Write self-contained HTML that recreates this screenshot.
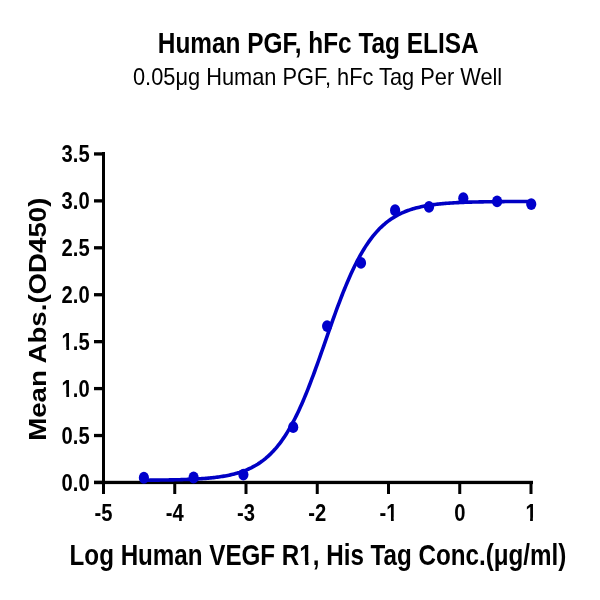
<!DOCTYPE html>
<html><head><meta charset="utf-8"><title>Human PGF, hFc Tag ELISA</title>
<style>
html,body{margin:0;padding:0;background:#fff;width:600px;height:600px;overflow:hidden}
svg{display:block;will-change:transform}
text{font-family:"Liberation Sans",sans-serif;fill:#000}
</style></head><body>
<svg width="600" height="600" viewBox="0 0 600 600">
<rect width="600" height="600" fill="#fff"/>
<g fill="#000"><rect x="102" y="152" width="3" height="332.10"/><rect x="94" y="480.8" width="439" height="3.30"/><rect x="94" y="480.80" width="8.5" height="3.30"/><rect x="94" y="433.87" width="8.5" height="3.30"/><rect x="94" y="386.94" width="8.5" height="3.30"/><rect x="94" y="340.01" width="8.5" height="3.30"/><rect x="94" y="293.08" width="8.5" height="3.30"/><rect x="94" y="246.15" width="8.5" height="3.30"/><rect x="94" y="199.22" width="8.5" height="3.30"/><rect x="94" y="152.29" width="8.5" height="3.30"/><rect x="102.00" y="483.6" width="3" height="10.40"/><rect x="173.25" y="483.6" width="3" height="10.40"/><rect x="244.50" y="483.6" width="3" height="10.40"/><rect x="315.75" y="483.6" width="3" height="10.40"/><rect x="387.00" y="483.6" width="3" height="10.40"/><rect x="458.25" y="483.6" width="3" height="10.40"/><rect x="529.50" y="483.6" width="3" height="10.40"/></g>
<path d="M143.60,480.22 L144.90,480.21 L146.19,480.20 L147.49,480.19 L148.78,480.18 L150.08,480.17 L151.37,480.16 L152.67,480.15 L153.97,480.14 L155.26,480.12 L156.56,480.11 L157.85,480.09 L159.15,480.08 L160.44,480.06 L161.74,480.05 L163.03,480.03 L164.33,480.01 L165.63,479.99 L166.92,479.97 L168.22,479.94 L169.51,479.92 L170.81,479.89 L172.10,479.87 L173.40,479.84 L174.70,479.81 L175.99,479.78 L177.29,479.75 L178.58,479.71 L179.88,479.68 L181.17,479.64 L182.47,479.60 L183.77,479.55 L185.06,479.51 L186.36,479.46 L187.65,479.41 L188.95,479.36 L190.24,479.30 L191.54,479.25 L192.83,479.18 L194.13,479.12 L195.43,479.05 L196.72,478.98 L198.02,478.90 L199.31,478.82 L200.61,478.74 L201.90,478.65 L203.20,478.55 L204.50,478.45 L205.79,478.35 L207.09,478.24 L208.38,478.12 L209.68,478.00 L210.97,477.87 L212.27,477.74 L213.57,477.59 L214.86,477.44 L216.16,477.28 L217.45,477.12 L218.75,476.94 L220.04,476.76 L221.34,476.56 L222.63,476.35 L223.93,476.14 L225.23,475.91 L226.52,475.67 L227.82,475.42 L229.11,475.15 L230.41,474.87 L231.70,474.58 L233.00,474.27 L234.30,473.94 L235.59,473.60 L236.89,473.23 L238.18,472.85 L239.48,472.46 L240.77,472.03 L242.07,471.59 L243.37,471.13 L244.66,470.64 L245.96,470.13 L247.25,469.59 L248.55,469.02 L249.84,468.43 L251.14,467.81 L252.43,467.15 L253.73,466.46 L255.03,465.74 L256.32,464.99 L257.62,464.20 L258.91,463.37 L260.21,462.50 L261.50,461.58 L262.80,460.63 L264.10,459.63 L265.39,458.59 L266.69,457.49 L267.98,456.35 L269.28,455.15 L270.57,453.91 L271.87,452.60 L273.17,451.24 L274.46,449.83 L275.76,448.35 L277.05,446.81 L278.35,445.20 L279.64,443.54 L280.94,441.80 L282.23,440.00 L283.53,438.13 L284.83,436.18 L286.12,434.17 L287.42,432.08 L288.71,429.92 L290.01,427.68 L291.30,425.37 L292.60,422.98 L293.90,420.52 L295.19,417.98 L296.49,415.36 L297.78,412.67 L299.08,409.90 L300.37,407.06 L301.67,404.15 L302.97,401.17 L304.26,398.12 L305.56,395.00 L306.85,391.81 L308.15,388.56 L309.44,385.26 L310.74,381.89 L312.03,378.48 L313.33,375.01 L314.63,371.50 L315.92,367.95 L317.22,364.36 L318.51,360.74 L319.81,357.09 L321.10,353.42 L322.40,349.73 L323.70,346.03 L324.99,342.32 L326.29,338.61 L327.58,334.90 L328.88,331.20 L330.17,327.52 L331.47,323.85 L332.77,320.21 L334.06,316.59 L335.36,313.01 L336.65,309.47 L337.95,305.97 L339.24,302.51 L340.54,299.11 L341.83,295.76 L343.13,292.46 L344.43,289.23 L345.72,286.06 L347.02,282.95 L348.31,279.92 L349.61,276.95 L350.90,274.06 L352.20,271.23 L353.50,268.49 L354.79,265.81 L356.09,263.21 L357.38,260.69 L358.68,258.24 L359.97,255.87 L361.27,253.58 L362.57,251.36 L363.86,249.21 L365.16,247.14 L366.45,245.14 L367.75,243.22 L369.04,241.36 L370.34,239.57 L371.63,237.85 L372.93,236.20 L374.23,234.61 L375.52,233.09 L376.82,231.62 L378.11,230.22 L379.41,228.87 L380.70,227.58 L382.00,226.35 L383.30,225.16 L384.59,224.03 L385.89,222.95 L387.18,221.92 L388.48,220.93 L389.77,219.98 L391.07,219.08 L392.37,218.22 L393.66,217.40 L394.96,216.61 L396.25,215.87 L397.55,215.15 L398.84,214.47 L400.14,213.83 L401.43,213.21 L402.73,212.62 L404.03,212.06 L405.32,211.53 L406.62,211.02 L407.91,210.54 L409.21,210.08 L410.50,209.65 L411.80,209.23 L413.10,208.84 L414.39,208.46 L415.69,208.10 L416.98,207.76 L418.28,207.44 L419.57,207.13 L420.87,206.84 L422.17,206.57 L423.46,206.30 L424.76,206.05 L426.05,205.82 L427.35,205.59 L428.64,205.38 L429.94,205.17 L431.23,204.98 L432.53,204.80 L433.83,204.62 L435.12,204.46 L436.42,204.30 L437.71,204.15 L439.01,204.01 L440.30,203.88 L441.60,203.75 L442.90,203.63 L444.19,203.51 L445.49,203.41 L446.78,203.30 L448.08,203.20 L449.37,203.11 L450.67,203.02 L451.97,202.94 L453.26,202.86 L454.56,202.78 L455.85,202.71 L457.15,202.65 L458.44,202.58 L459.74,202.52 L461.03,202.46 L462.33,202.41 L463.63,202.36 L464.92,202.31 L466.22,202.26 L467.51,202.22 L468.81,202.17 L470.10,202.13 L471.40,202.10 L472.70,202.06 L473.99,202.03 L475.29,201.99 L476.58,201.96 L477.88,201.93 L479.17,201.91 L480.47,201.88 L481.77,201.85 L483.06,201.83 L484.36,201.81 L485.65,201.79 L486.95,201.77 L488.24,201.75 L489.54,201.73 L490.83,201.71 L492.13,201.70 L493.43,201.68 L494.72,201.67 L496.02,201.65 L497.31,201.64 L498.61,201.63 L499.90,201.62 L501.20,201.60 L502.50,201.59 L503.79,201.58 L505.09,201.57 L506.38,201.57 L507.68,201.56 L508.97,201.55 L510.27,201.54 L511.57,201.53 L512.86,201.53 L514.16,201.52 L515.45,201.51 L516.75,201.51 L518.04,201.50 L519.34,201.50 L520.63,201.49 L521.93,201.49 L523.23,201.48 L524.52,201.48 L525.82,201.47 L527.11,201.47 L528.41,201.47 L529.70,201.46 L531.00,201.46" fill="none" stroke="#0000c4" stroke-width="3.6" stroke-linejoin="round"/>
<g fill="#0000cc"><ellipse cx="143.9" cy="477.75" rx="5.1" ry="5.9"/><ellipse cx="193.6" cy="477.5" rx="5.1" ry="5.9"/><ellipse cx="243.4" cy="474.6" rx="5.1" ry="5.9"/><ellipse cx="293.2" cy="427.2" rx="5.1" ry="5.9"/><ellipse cx="327.1" cy="326.1" rx="5.1" ry="5.9"/><ellipse cx="361" cy="262.9" rx="5.1" ry="5.9"/><ellipse cx="395.1" cy="210.25" rx="5.1" ry="5.9"/><ellipse cx="429" cy="206.9" rx="5.1" ry="5.9"/><ellipse cx="463.3" cy="198.2" rx="5.1" ry="5.9"/><ellipse cx="497.1" cy="201.4" rx="5.1" ry="5.9"/><ellipse cx="531.25" cy="204.1" rx="5.1" ry="5.9"/></g>
<g transform="translate(157.78,52.6) scale(0.8417,1)"><text id="title" font-size="29" font-weight="bold" text-anchor="start">Human PGF, hFc Tag ELISA</text></g><g transform="translate(133,84.8) scale(0.9087,1)"><text id="sub" font-size="24" font-weight="normal" text-anchor="start">0.05μg Human PGF, hFc Tag Per Well</text></g><g transform="translate(69.6,565) scale(0.8345,1)"><text id="xlab" font-size="29" font-weight="bold" text-anchor="start">Log Human VEGF R1, His Tag Conc.(μg/ml)</text><g fill="#fff"><rect x="276.33" y="-3.66" width="5.94" height="4.66"/><rect x="286.25" y="-3.66" width="5.57" height="4.66"/></g></g><text id="ylab" transform="translate(46.1,440.8) scale(0.88,1) rotate(-90)" font-size="27.65" font-weight="bold">Mean Abs.(OD450)</text><g transform="translate(89.7,490.75) scale(0.86,1)"><text  font-size="23.5" font-weight="bold" text-anchor="end">0.0</text></g><g transform="translate(89.7,443.82) scale(0.86,1)"><text  font-size="23.5" font-weight="bold" text-anchor="end">0.5</text></g><g transform="translate(89.7,396.89) scale(0.86,1)"><text  font-size="23.5" font-weight="bold" text-anchor="end">1.0</text><g fill="#fff"><rect x="-32.19" y="-3.10" width="5.00" height="4.10"/><rect x="-23.96" y="-3.10" width="4.71" height="4.10"/></g></g><g transform="translate(89.7,349.96) scale(0.86,1)"><text  font-size="23.5" font-weight="bold" text-anchor="end">1.5</text><g fill="#fff"><rect x="-32.19" y="-3.10" width="5.00" height="4.10"/><rect x="-23.96" y="-3.10" width="4.71" height="4.10"/></g></g><g transform="translate(89.7,303.03000000000003) scale(0.86,1)"><text  font-size="23.5" font-weight="bold" text-anchor="end">2.0</text></g><g transform="translate(89.7,256.09999999999997) scale(0.86,1)"><text  font-size="23.5" font-weight="bold" text-anchor="end">2.5</text></g><g transform="translate(89.7,209.17000000000002) scale(0.86,1)"><text  font-size="23.5" font-weight="bold" text-anchor="end">3.0</text></g><g transform="translate(89.7,162.24) scale(0.86,1)"><text  font-size="23.5" font-weight="bold" text-anchor="end">3.5</text></g><g transform="translate(103.5,520.7) scale(0.86,1)"><text  font-size="23.5" font-weight="bold" text-anchor="middle">-5</text></g><g transform="translate(174.75,520.7) scale(0.86,1)"><text  font-size="23.5" font-weight="bold" text-anchor="middle">-4</text></g><g transform="translate(246.0,520.7) scale(0.86,1)"><text  font-size="23.5" font-weight="bold" text-anchor="middle">-3</text></g><g transform="translate(317.25,520.7) scale(0.86,1)"><text  font-size="23.5" font-weight="bold" text-anchor="middle">-2</text></g><g transform="translate(388.5,520.7) scale(0.86,1)"><text  font-size="23.5" font-weight="bold" text-anchor="middle">-1</text><g fill="#fff"><rect x="-2.14" y="-3.10" width="5.00" height="4.10"/><rect x="6.09" y="-3.10" width="4.71" height="4.10"/></g></g><g transform="translate(459.75,520.7) scale(0.86,1)"><text  font-size="23.5" font-weight="bold" text-anchor="middle">0</text></g><g transform="translate(531.0,520.7) scale(0.86,1)"><text  font-size="23.5" font-weight="bold" text-anchor="middle">1</text><g fill="#fff"><rect x="-6.05" y="-3.10" width="5.00" height="4.10"/><rect x="2.17" y="-3.10" width="4.71" height="4.10"/></g></g>
</svg>
</body></html>
